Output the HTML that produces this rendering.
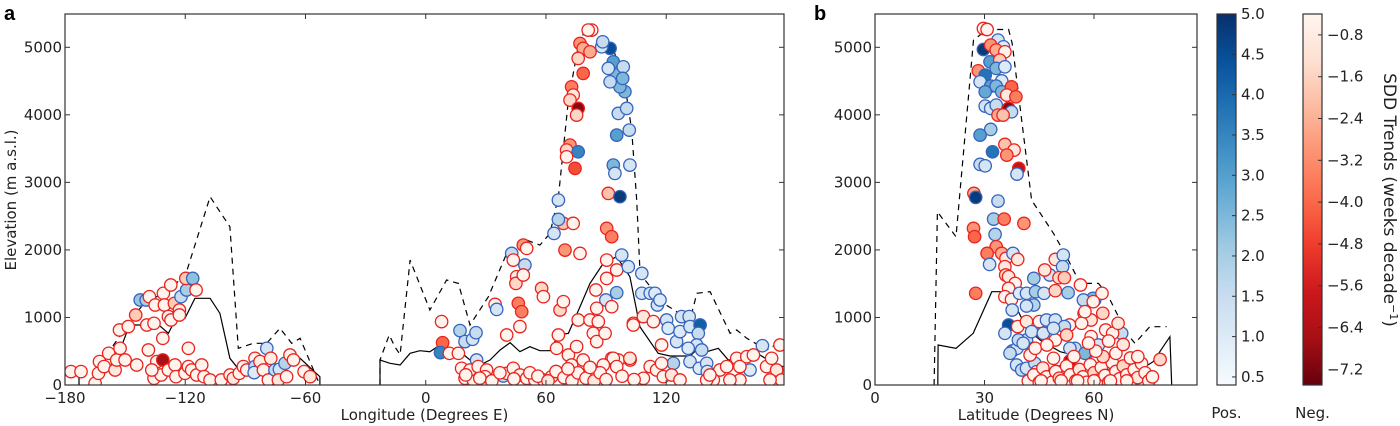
<!DOCTYPE html>
<html><head><meta charset="utf-8"><style>
body{margin:0;background:#fff;}
svg{display:block;font-family:"DejaVu Sans","Liberation Sans",sans-serif;}
</style></head><body>
<svg id="fig" width="1400" height="426" viewBox="0 0 1400 426" xmlns="http://www.w3.org/2000/svg">
<defs>
<clipPath id="clipA"><rect x="65" y="14" width="719" height="371"/></clipPath>
<clipPath id="clipB"><rect x="875" y="14" width="322" height="371"/></clipPath>
<linearGradient id="gBlue" x1="0" y1="1" x2="0" y2="0">
<stop offset="0" stop-color="#f7fbff"/><stop offset="0.125" stop-color="#deebf7"/><stop offset="0.25" stop-color="#c6dbef"/><stop offset="0.375" stop-color="#9ecae1"/><stop offset="0.5" stop-color="#6baed6"/><stop offset="0.625" stop-color="#4292c6"/><stop offset="0.75" stop-color="#2171b5"/><stop offset="0.875" stop-color="#08519c"/><stop offset="1" stop-color="#08306b"/>
</linearGradient>
<linearGradient id="gRed" x1="0" y1="0" x2="0" y2="1">
<stop offset="0" stop-color="#fff5f0"/><stop offset="0.125" stop-color="#fee0d2"/><stop offset="0.25" stop-color="#fcbba1"/><stop offset="0.375" stop-color="#fc9272"/><stop offset="0.5" stop-color="#fb6a4a"/><stop offset="0.625" stop-color="#ef3b2c"/><stop offset="0.75" stop-color="#cb181d"/><stop offset="0.875" stop-color="#a50f15"/><stop offset="1" stop-color="#67000d"/>
</linearGradient>
</defs>
<text x="4" y="20" font-size="20" font-weight="bold" font-family="Liberation Sans, sans-serif">a</text>
<text x="814" y="20" font-size="20" font-weight="bold" font-family="Liberation Sans, sans-serif">b</text>
<g id="layerA"></g>
<g id="layerB"></g>
<g id="layerCB"></g>
</svg>
<script>
// ---------- Panel a data (longitude, elevation, trend) ----------
const aLon = [-177,-172,-165,-162.8,-163.3,-160.5,-158.2,-155,-154.2,-152.8,-152.5,-150,-148.4,-144.7,-144.2,-142.5,-139.5,-137.9,-139.2,-135.6,-138.4,-134.2,-131.2,-131.2,-130.9,-135,-130.4,-127.2,-128.4,-127.1,-125.4,-122.9,-122.9,-122.1,-119.3,-119.7,-116.3,-114.6,-118.4,-135.6,-132,-128.4,-125.1,-124.6,-120.1,-118.4,-116.8,-114.3,-111.8,-110.6,-107.6,-102,-97.6,-96,-93,-91,-89.3,-85.2,-85.2,-85.6,-82.7,-81,-79.3,-78.5,-77.3,-75.2,-73,-70.2,-73.5,-69.4,-67.7,-66,-60.7,-57.7,-136.7,
7.9,8.4,7.4,11.8,17.1,19.6,16.3,23.4,25.1,25.4,17.9,19.6,23.7,22.1,26.2,30.4,29.6,34.6,35.4,38.7,40.4,42.9,43.7,47,49.5,45.4,46.2,47.9,48.7,50.4,45,48.7,57.8,58.7,40.4,43.7,47,50.4,54.5,58.7,62.8,66.2,65.3,67,68.7,71.2,72.8,76.1,78.6,82,83.6,85.3,86.1,89.5,92.8,96.1,102,103.6,68.7,66.2,66.2,64,73.6,69.5,77,90.3,92.8,91.1,96.9,93.6,94.4,101.9,95.3,101.6,96.1,100.3,99.4,96.9,95.3,92,93.6,91.1,92,87.8,88.3,82.8,81.1,77,78.6,82,76.1,78.6,72.8,73.6,72,76.1,75.3,72,70.3,76.1,70.3,74.5,90.3,95.3,90.3,84.9,89.9,95.3,92.8,85.3,75.3,98.6,98.3,
97.8,101.1,107.8,107.8,112,114.4,115.6,116.9,120.2,121,125.2,126.9,127.7,131.5,131.9,136.9,136,135.2,137.7,131,131.9,136.5,140.2,140.5,123.6,161.8,168,176.8,103.6,108.6,113.6,117.7,93.6,101.9,88.6,95.3,112,115.2,117.7,118.6,122.7,126.9,108.6,146.8,150.2,155.2,156.8,160.2,163.5,170.1,172.6,175.1,177.6,156.8,151.8,143.5,140.2,141.8,171.8,
20,27,33,37,44,52,56,61,65,69,73,76,80,84,87,90,98,104,71,82];
const aElev = [198,198,25,346,173,272,469,222,370,814,543,370,864,1036,296,1258,1258,1308,888,913,518,346,370,691,1357,1184,1184,1480,1012,962,1209,1110,1036,1308,1406,1579,1579,1406,543,99,148,222,296,123,173,272,222,148,296,123,74,74,148,99,173,272,222,395,272,183,346,222,543,74,395,222,232,321,74,123,444,370,198,123,222,
938,627,479,469,805,642,469,676,775,370,247,99,74,222,272,222,123,1194,1120,133,740,1949,1850,864,1776,1604,1209,1086,2072,2023,1505,1628,1431,1308,173,247,148,99,74,74,123,740,543,1110,1234,444,296,962,370,962,765,642,938,765,395,370,370,913,2393,2738,2452,2245,2393,1998,1949,2319,2196,2837,2788,3256,3133,3256,3700,3774,4021,4095,4342,4415,4588,4489,4785,4687,4983,5007,5081,5254,5254,5057,4983,4933,4835,4613,4415,4292,4218,4095,3996,3552,3478,3453,3379,3207,1850,1702,1579,1406,1258,1367,1160,1135,568,4712,4539,
1924,1752,1653,1357,1357,1357,1184,1258,962,839,642,790,1012,1012,864,888,765,592,518,543,346,247,321,198,321,222,582,592,888,1012,938,592,395,395,296,272,272,222,321,123,148,74,99,222,272,395,272,419,444,272,395,222,74,74,74,74,74,148,74,
150,100,60,180,90,180,130,60,200,110,60,180,100,60,180,80,130,80,240,260];
const aTrend = [-0.5,-0.5,-0.5,-0.5,-0.5,-0.5,-0.5,-1,-0.5,-0.5,-0.5,-0.5,-0.5,-1.8,-0.5,2.2,2,-0.5,-0.5,-0.5,-0.5,-0.5,-6.5,-0.5,-0.5,-0.5,-0.5,-0.5,-0.5,-0.5,-1.8,-0.8,-0.5,1.5,2,-1.8,2.3,-0.5,-0.5,-0.5,-0.5,-0.5,-0.5,-0.5,-0.5,-0.5,-0.5,-0.5,-0.5,-0.5,-0.5,-0.5,-0.5,-1,-0.5,-0.5,-0.5,-0.5,1.5,1,-0.8,-0.5,1.2,-0.5,-0.8,1.5,1.2,1.8,-1,-0.5,-0.5,-0.5,-0.5,-1,-0.5,
-0.5,-4,3.5,-0.5,1.8,1.5,-0.5,1.2,1.5,1.2,-0.5,-0.5,-0.5,-0.5,-0.5,-0.5,-0.5,-0.5,1.2,1.5,-0.5,1.5,-0.5,-0.5,1.5,-0.5,-3.5,-3.5,-3,-0.5,-1.5,-0.5,-1.5,-0.5,-0.5,-0.5,-0.5,-0.5,-0.5,-0.5,-0.5,-0.5,-0.5,-1.5,-0.5,-0.5,-0.5,-0.5,-0.5,-0.5,-0.5,-0.5,-0.5,-0.5,-0.5,-0.5,-0.5,-0.5,-2,1.2,1.8,1.2,-0.5,-3,-0.5,-3,-3.5,-2,4.8,2.5,1.2,1.2,3,1.5,1.5,1.5,2.5,2.5,2.5,1.5,3,1.2,4.5,1.2,1.5,-0.5,-0.5,-3,-2.5,-2.5,-1.5,-4,-3.5,-1,-1.5,-7,-1.5,-3,-1.5,3.5,-0.5,-4.5,-0.5,-0.5,-0.5,-0.5,1.2,2,-0.5,-0.5,-0.5,1.5,2.5,
1.2,1.2,1.2,1.2,1.2,1,1.2,1,1.2,1,1.2,1,1.2,1.2,1.2,4.2,1.5,1.2,1.5,1,1.2,1,1.2,1,1.8,1,1.2,-0.5,-0.5,-1,-0.5,-0.5,-0.5,-1,-0.5,-0.5,-0.5,-0.5,-0.5,-0.5,-1,-0.5,-0.5,-0.5,-0.5,-0.5,-0.5,-0.5,-0.5,-0.5,-0.5,-1,-0.5,-0.5,-0.5,-0.5,-0.5,-0.5,-0.5,
-0.5,-0.5,-0.5,-0.5,-0.5,-0.5,-0.5,-1,-0.5,-0.5,-0.5,-0.5,-0.5,-1,-0.5,-0.5,-0.5,-0.5,-0.5,-0.5];
// Panel a profile lines (null = gap)
const aLineLon = [-178,-173,-173,null,-162.5,-162.5,-157.5,-152.5,-148.4,-145.9,-139.2,-134.2,-128.4,-124.6,-120.1,-115.2,-107.6,-102.7,-97.7,-93,-86,-75.2,-72.7,-62.7,-52.8,-52.8,null,-22.8,-22.8,-17.8,-12.8,-7.8,-2.9,2.1,7.1,12.1,17.1,22.1,27.1,32.1,37.1,42.1,47,52,57,62,66.2,71.2,77,82,88.6,95.3,101.9,106.9,116,121.9,131.9,136.9,140.2,146,151,160.2,166.8,173.5,178.5];
const aMean = [198,198,0,null,0,123,271,518,839,888,888,913,765,987,987,1283,1283,1061,395,222,222,222,345,395,123,0,null,0,370,321,296,469,508,493,592,518,493,370,296,370,518,626,493,567,508,508,740,765,1159,1505,1801,1899,1603,863,469,429,429,567,493,543,370,370,444,321,271];
const aMaxLon = [-178,-173,-173,null,-162.5,-162.5,-157.5,-145.9,-139.2,-134.2,-120.1,-107.6,-97.7,-93.5,-86,-79.4,-72.7,-66.9,-62.7,-52.8,null,-22.8,-22.8,-18.2,-15.3,-12.8,-7.8,2.1,10.4,16.3,22.1,31.3,40.4,50.4,57,62,66.2,71.2,77,82,88.6,93.6,98.6,100.3,102.8,105.3,106.9,109.4,118.6,131.9,135.3,141.9,151.9,155.2,160.2,170.2,178.5];
const aMax = [198,198,0,null,0,370,518,1011,1258,1307,1603,2787,2343,543,617,617,839,617,691,0,null,0,370,740,560,450,1850,1110,1554,1505,888,1307,1949,2146,2072,2245,2787,4218,5155,5254,5057,4983,4465,4267,3774,2738,1702,1554,1209,962,1357,1381,765,814,691,518,666];

// ---------- Panel b data (latitude, elevation, trend) ----------
const bLat = [29.7,30.7,33.7,35.2,29.7,31.7,33.2,35.6,31.5,34.2,28.3,30.2,33.2,35.6,34.7,28.8,31.7,33.2,30.2,34.7,37.4,36.1,38.6,30.2,31.7,33.2,36.6,37.4,33.7,35.1,31.7,28.8,35.6,38.1,36.1,32.2,28.8,30.2,39.4,38.9,27.1,27.6,33.7,32.5,35.4,40.8,27,27.3,32.9,33.2,30.7,34.7,35.9,37.8,39.1,31.4,35.6,35.8,36.6,38.4,36.6,27.6,35.6,37.4,39.6,41.5,43.5,44,46.3,49.4,51.6,51.4,47.9,46.5,50.4,51.9,52.9,56.3,49.4,43.5,41.5,37.6,36.6,35.6,37.6,38.9,41.5,43.5,39.1,41.5,45,47.4,49.4,53.3,46,47,49.4,51.9,54.8,57.9,59.2,61.2,67.6,60.2,59.7,57.1,62.2,57.3,59.2,62.4,63.2,65.1,66.6,
38.8,40.2,41.5,43.8,44.3,39.3,40.6,42.9,46.1,48.9,50.2,53.4,55.7,64.8,57.5,53.4,37,78.1,42.5,43.9,47.1,48.9,52.5,56.6,57.5,59.8,
42,43.5,45,46,47,48.5,49.5,50.5,52,52.5,53.5,55,56,57,58,59,60,61,62,63,64,65,66,67,68,69,70,71,72,73,74,75,76,62.5,66,70,54.5,60.5,68,64,58.5,72,45.5,51,55.5,60,64.5,69];
const bElev = [5279,5264,5106,5007,4968,5032,4958,4933,4785,4810,4652,4588,4687,4711,4503,4489,4425,4425,4341,4341,4415,4292,4267,4129,4095,4144,4095,4045,3996,3996,3784,3700,3562,3478,3404,3453,3266,3246,3207,3123,2837,2778,2723,2457,2457,2393,2319,2196,2230,2048,1949,1949,1875,1949,1860,1786,1752,1628,1604,1505,1431,1357,1308,1268,1357,1357,1579,1382,1357,1860,1924,1752,1628,1702,1589,1589,1367,1480,1396,1184,1169,1110,888,765,504,543,666,543,864,938,938,765,666,888,765,962,962,864,543,469,716,592,765,1258,1283,1258,1357,1061,962,1061,814,765,913,
296,222,247,321,197,666,617,789,765,839,197,543,197,148,469,356,469,377,444,543,592,395,740,913,1086,1234,
60,150,40,250,120,40,200,100,40,280,150,60,230,120,40,300,180,70,260,140,40,330,200,90,280,150,50,230,110,320,180,60,120,420,470,400,420,500,600,650,620,420,60,60,60,60,60,60];
const bTrend = [-0.5,-0.5,1.2,1,4.8,-3,-2.5,-0.5,3,-1.8,-3,3.8,2.5,1,1,1.2,3,2.5,2.8,2.5,-4,-1,-3.5,1.2,1.2,1.5,-7,1.5,-2.5,-2,2,3,-2,-1,-3,3.8,1.5,1.2,-6,1.2,-2.5,4.8,1.5,2,-3.5,-3,-3,-4,1.8,-3,-3.5,-2.5,-1,1.2,-1,1.2,-1,-1.5,-1,-0.5,-0.5,-3.5,-0.5,-0.5,1,1.2,2,2,1.2,-1,1.2,1.5,1.2,-1,-1.5,-1.8,2,-0.5,-1.5,1.8,1.2,1.2,4.5,1.2,2,1.2,1.5,1,-0.5,-1,-0.5,-0.5,-0.5,-0.5,-0.5,1.2,1.2,1.5,1.5,3.5,-0.5,1.2,1.5,2,2.5,1.5,-0.5,-0.5,-1,-1.5,-0.5,-0.5,-1,
1.2,1.5,1.2,1.5,1,1.5,1.2,1.2,1.2,1.2,1.2,1.2,1.2,1.5,2.5,-6.5,1.5,-1.5,-0.5,-0.5,-0.5,-0.5,-1.5,-0.5,-0.5,-0.5,
-0.5,-0.5,-0.5,-1,-0.5,-0.5,-0.5,-1.5,-0.5,-0.5,-0.5,-0.5,-1,-0.5,-0.5,-0.5,-1.5,-0.5,-0.5,-0.5,-1,-0.5,-0.5,-0.5,-1.5,-0.5,-0.5,-0.5,-1,-0.5,-0.5,-0.5,-0.5,-1.5,-0.5,-0.5,-0.5,-0.5,-1,-0.5,-0.5,-0.5,-0.5,-0.5,-0.5,-0.5,-0.5,-0.5];
const bMeanLat = [17.2,17.3,22.2,26.9,32.0,36.5,41.6,45.2,50.7,56.2,61.6,67.1,71.2,76.2,80.8,81.3];
const bMean = [0,592,543,765,1381,1381,839,666,493,419,419,321,173,345,715,0];
const bMaxLat = [16.2,17.1,22.2,27.0,30.7,36.6,37.6,42.9,48.9,52.5,56.2,61.2,63.5,69.0,71.2,75.3,79.9];
const bMax = [0,2565,2195,5106,5264,5264,5057,2738,2245,1899,1505,1505,1357,765,617,863,863];

// ---------- Axis / colorbar tick arrays ----------
const yTicks = [0,1000,2000,3000,4000,5000];
const aXTicks = [-180,-120,-60,0,60,120];
const bXTicks = [0,30,60];
const posTicks = [0.5,1.0,1.5,2.0,2.5,3.0,3.5,4.0,4.5,5.0];
const negTicks = [-0.8,-1.6,-2.4,-3.2,-4.0,-4.8,-5.6,-6.4,-7.2];

const NS = "http://www.w3.org/2000/svg";
function mk(tag, attrs, parent){ const e=document.createElementNS(NS,tag); for(const k in attrs) e.setAttribute(k,attrs[k]); if(parent) parent.appendChild(e); return e; }
const PT = 14, PB = 385;
const yS = e => PB - e*(PB-47.3)/5000;
const xA = lon => 65 + (lon+180)*2.004;
const xB = lat => 875 + lat*3.65;
const fmtNeg = v => (v<0?"\u2212":"") + Math.abs(v);

const BLUES=["#f7fbff","#deebf7","#c6dbef","#9ecae1","#6baed6","#4292c6","#2171b5","#08519c","#08306b"];
const REDS=["#fff5f0","#fee0d2","#fcbba1","#fc9272","#fb6a4a","#ef3b2c","#cb181d","#a50f15","#67000d"];
function interp(stops,t){ t=Math.max(0,Math.min(1,t)); const p=t*(stops.length-1); const i=Math.min(stops.length-2,Math.floor(p)); const f=p-i;
 const a=stops[i], b=stops[i+1]; const c=k=>Math.round(parseInt(a.substr(k,2),16)*(1-f)+parseInt(b.substr(k,2),16)*f);
 return "rgb("+c(1)+","+c(3)+","+c(5)+")"; }
function fillFor(v){ return v>0 ? interp(BLUES,(v-0.4)/4.6) : interp(REDS,(-0.4-v)/7.1); }

function pathFrom(xs, ys, xf){ let d="", pen=false; for(let i=0;i<xs.length;i++){ if(xs[i]===null){pen=false;continue;} d+=(pen?"L":"M")+xf(xs[i]).toFixed(1)+","+yS(ys[i]).toFixed(1); pen=true;} return d; }

function drawPanel(layer, x0, x1, xf, xTicks, xLabel, xs, ys, ts, meanX, meanY, maxX, maxY, clip, yLabel){
  // profile lines
  const lines = mk("g",{"clip-path":"url(#"+clip+")"},layer);
  const mx = mk("path",{d:pathFrom(maxX,maxY,xf),fill:"none",stroke:"#000","stroke-width":1.2,"stroke-dasharray":"6,5"},lines);
  
  
  const mn = mk("path",{d:pathFrom(meanX,meanY,xf),fill:"none",stroke:"#000","stroke-width":1.2},lines);
  
  
  // points
  const pts = mk("g",{"clip-path":"url(#"+clip+")"},layer);
  for(let i=0;i<xs.length;i++){
    const v=ts[i];
    const c = mk("circle",{cx:xf(xs[i]).toFixed(1),cy:yS(ys[i]).toFixed(1),r:6.2,fill:fillFor(v),stroke:v>0?"#3563bd":"#e8231f","stroke-width":1.3},pts);
    
    
  }
  // frame
  const fr = mk("rect",{x:x0,y:PT,width:x1-x0,height:PB-PT,fill:"none",stroke:"#333","stroke-width":1.2},layer);
  
  
  // y ticks
  yTicks.forEach(t=>{
    const y=yS(t);
    mk("line",{x1:x0,x2:x0+5,y1:y,y2:y,stroke:"#333"},layer);
    mk("line",{x1:x1,x2:x1-5,y1:y,y2:y,stroke:"#333"},layer);
    const tx = mk("text",{x:x0-3,y:y+5,"font-size":15,"text-anchor":"end",fill:"#222"},layer);
    tx.textContent=t;
    
    
  });
  xTicks.forEach(t=>{
    const x=xf(t);
    mk("line",{x1:x,x2:x,y1:PB,y2:PB-5,stroke:"#333"},layer);
    mk("line",{x1:x,x2:x,y1:PT,y2:PT+5,stroke:"#333"},layer);
    const tx = mk("text",{x:x,y:PB+18,"font-size":15,"text-anchor":"middle",fill:"#222"},layer);
    tx.textContent=fmtNeg(t);
    
    
  });
  const xl = mk("text",{x:(x0+x1)/2+ (yLabel?0:0),y:420,"font-size":15,"text-anchor":"middle",fill:"#222"},layer);
  xl.textContent=xLabel;
  
  
  if(yLabel){
    const yl = mk("text",{x:0,y:0,"font-size":15,"text-anchor":"middle",fill:"#222",transform:"translate(16,200) rotate(-90)"},layer);
    yl.textContent=yLabel;
    
    
  }
}
drawPanel(document.getElementById("layerA"),65,784,xA,aXTicks,"Longitude (Degrees E)",aLon,aElev,aTrend,aLineLon,aMean,aMaxLon,aMax,"clipA","Elevation (m a.s.l.)");
drawPanel(document.getElementById("layerB"),875,1197,xB,bXTicks,"Latitude (Degrees N)",bLat,bElev,bTrend,bMeanLat,bMean,bMaxLat,bMax,"clipB",null);

// colorbars
const cb = document.getElementById("layerCB");
function colorbar(x0,w,grad,vTop,vBot,ticks,name,caption){
  const r = mk("rect",{x:x0,y:PT,width:w,height:PB-PT,fill:"url(#"+grad+")",stroke:"#333","stroke-width":1.2},cb);
  
  
  ticks.forEach(t=>{
    const y = PT + (vTop-t)/(vTop-vBot)*(PB-PT);
    mk("line",{x1:x0+w,x2:x0+w-4,y1:y,y2:y,stroke:"#333"},cb);
    const tx = mk("text",{x:x0+w+5,y:y+5,"font-size":15,fill:"#222"},cb);
    tx.textContent = fmtNeg(t.toFixed(1)*1).replace(/^(\u2212?\d+)$/,"$1.0");
    
    
  });
  const c = mk("text",{x:x0+w/2,y:418,"font-size":15,"text-anchor":"middle",fill:"#222"},cb);
  c.textContent=caption;
  
  
}
colorbar(1217,19,"gBlue",5.0,0.4,posTicks,"positive-colorbar","Pos.");
colorbar(1303,19,"gRed",-0.4,-7.5,negTicks,"negative-colorbar","Neg.");
const ct = mk("text",{x:0,y:0,"font-size":17,"text-anchor":"middle",fill:"#222",transform:"translate(1384,200) rotate(90)"},cb);


ct.innerHTML = 'SDD Trends (weeks decade<tspan dy="-6" font-size="11">\u22121</tspan><tspan dy="6">)</tspan>';
</script>
</body></html>
